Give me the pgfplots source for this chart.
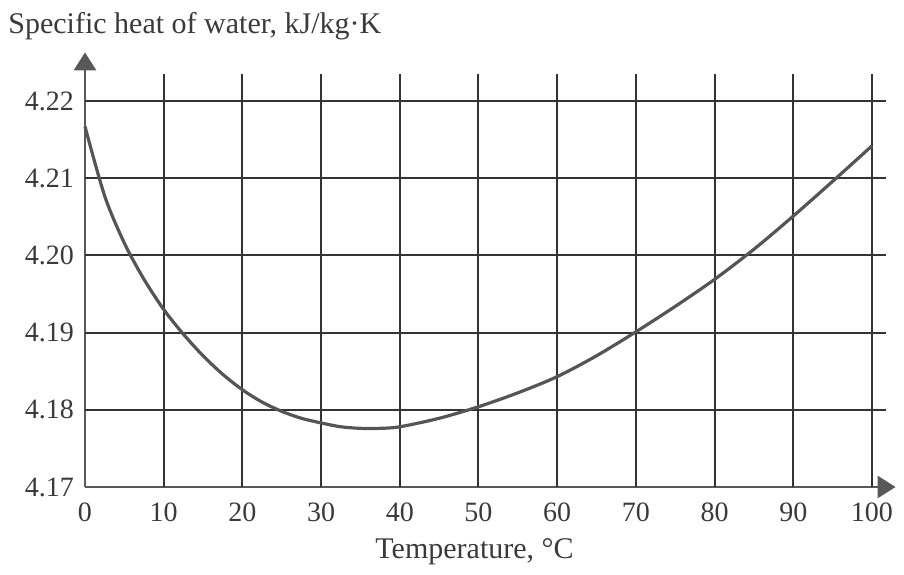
\documentclass[border=0pt]{standalone}
\usepackage{fontspec}
\setmainfont{Liberation Serif}
\usepackage{pgfplots}
\pgfplotsset{compat=1.18}
\usetikzlibrary{arrows.meta}
\definecolor{ink}{HTML}{3A3A3A}
\definecolor{gridc}{HTML}{333333}
\definecolor{curvec}{HTML}{555555}
\begin{document}
\begin{tikzpicture}
\path[use as bounding box] (-42.5pt,-43.5pt) rectangle (409.5pt,243.5pt);
\begin{axis}[
  at={(0,0)}, anchor=origin,
  scale only axis, width=405.3pt, height=217.3pt,
  xmin=0, xmax=103, ymin=4.17, ymax=4.2263,
  clip=false,
  axis lines=left,
  axis line style={line width=1.4pt, draw=ink!85, -{Triangle[width=11pt,length=9pt]}},
  xtick={0,10,...,100},
  ytick={4.17,4.18,4.19,4.20,4.21,4.22},
  yticklabels={4.17,4.18,4.19,4.20,4.21,4.22},
  major tick length=0pt,
  tick style={draw=none},
  /pgf/number format/assume math mode=true,
  ticklabel style={font=\fontsize{14}{16}\selectfont, text=ink},
  xticklabel style={yshift=-4.5pt},
  yticklabel style={xshift=-2pt},
]
\pgfplotsinvokeforeach{10,20,30,40,50,60,70,80,90,100}{
  \draw[gridc, line width=1pt] (axis cs:#1,4.17) -- (axis cs:#1,4.2235);
}
\pgfplotsinvokeforeach{4.18,4.19,4.20,4.21,4.22}{
  \draw[gridc, line width=1pt] (axis cs:0,#1) -- (axis cs:101.8,#1);
}
\addplot[curvec, line width=1.6pt, smooth, tension=0.5] coordinates {
  (0,4.2167) (2.5,4.2077) (5,4.2016) (7.5,4.1969) (10,4.1930) (12.5,4.1898)
  (15,4.1870) (17.5,4.1846) (20,4.1826) (22.5,4.1810) (25,4.1798) (27.5,4.1789)
  (30,4.1783) (32.5,4.1778) (35,4.1776) (37.5,4.1776) (40,4.1778) (45,4.1789) (50,4.1804)
  (55,4.1822) (60,4.1843) (65,4.1870) (70,4.1901) (75,4.1934) (80,4.1969)
  (85,4.2008) (90,4.2051) (95,4.2096) (100,4.2142)
};
\node[anchor=base west, font=\fontsize{15}{17}\selectfont, text=ink, inner sep=0pt]
  at (axis cs:0,4.2263) [xshift=-38.5pt, yshift=9.5pt] {Specific heat of water, kJ/kg·K};
\node[anchor=base, font=\fontsize{15}{17}\selectfont, text=ink, inner sep=0pt]
  at (axis cs:49.5,4.17) [yshift=-35.5pt] {Temperature, °C};
\end{axis}
\end{tikzpicture}
\end{document}
